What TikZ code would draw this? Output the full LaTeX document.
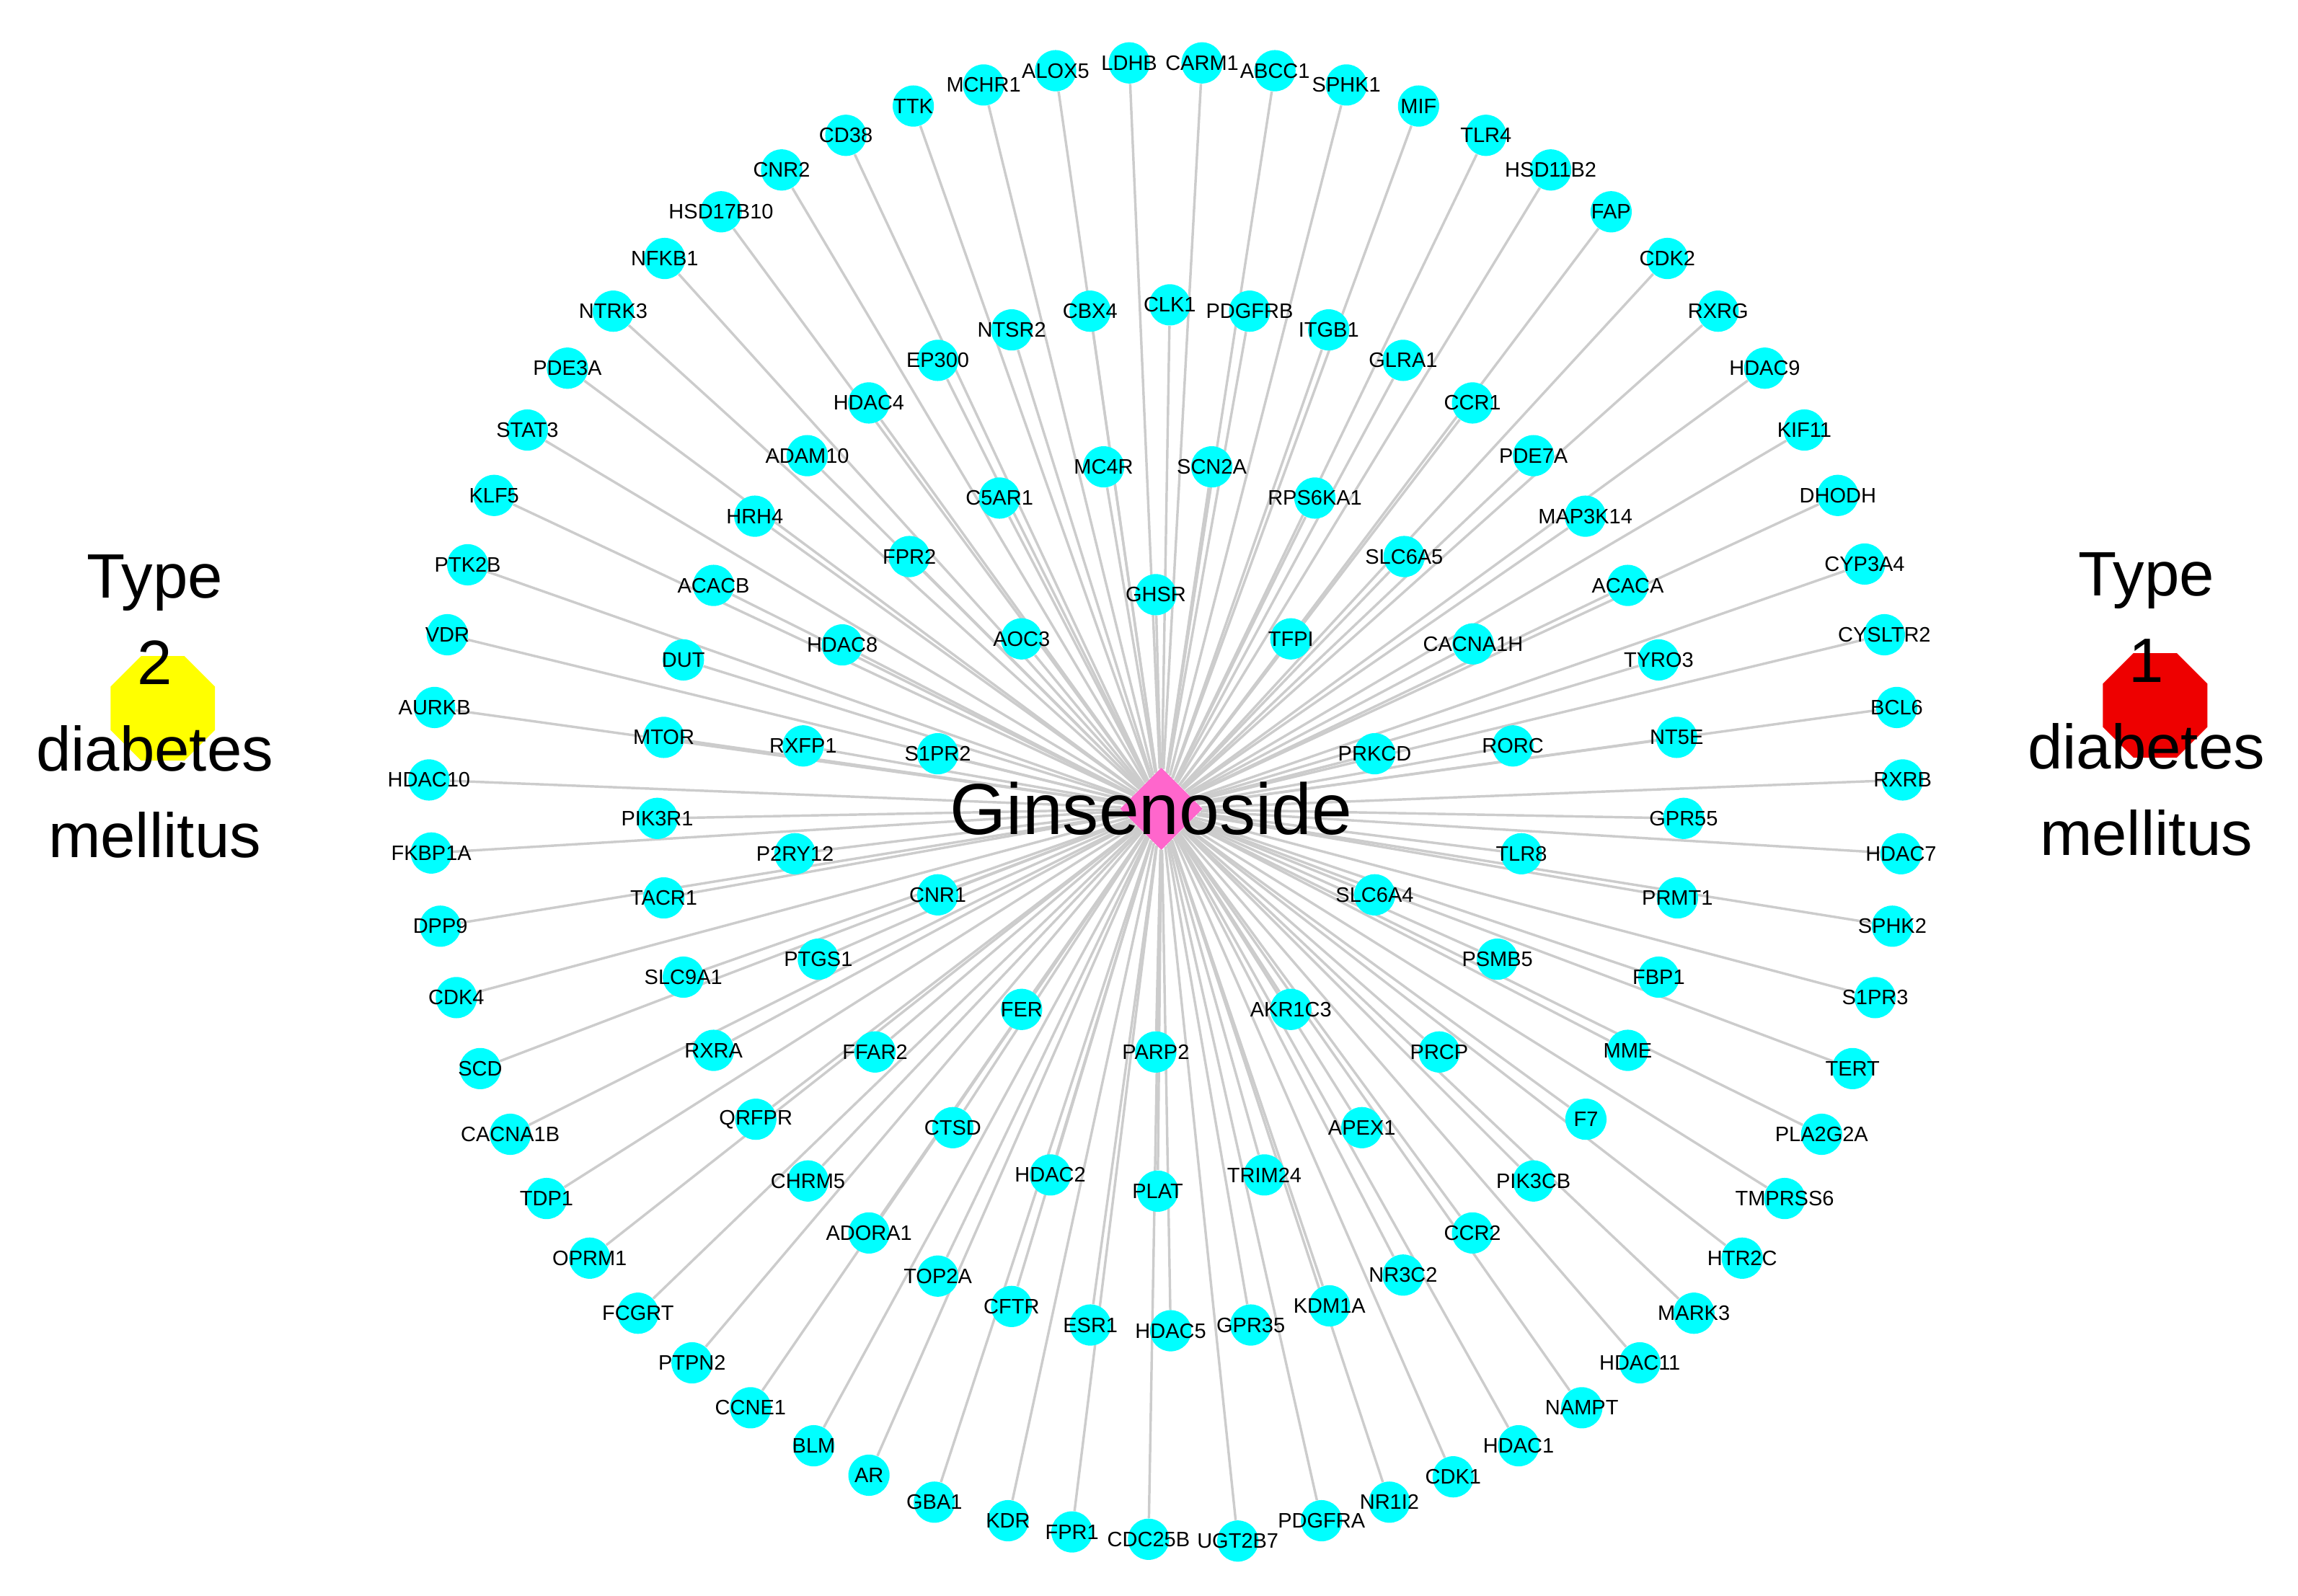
\documentclass[tikz,border=0pt]{standalone}
\usepackage{fontspec}
\setmainfont{Liberation Sans}
\usetikzlibrary{shapes.geometric}
\pgfdeclarelayer{background}
\pgfsetlayers{background,main}
\definecolor{genecyan}{RGB}{0,255,255}
\definecolor{linkgray}{RGB}{204,204,204}
\definecolor{ginpink}{RGB}{255,102,204}
\definecolor{typeonered}{RGB}{238,0,0}
\definecolor{typetwoyellow}{RGB}{255,255,0}
\tikzset{
    genetext/.style={font=\fontsize{10.1}{12}\selectfont, inner sep=0pt},
    gene/.style={circle, fill=genecyan, minimum size=7mm, inner sep=0pt,
        label={[genetext]center:#1}},
    link/.style={draw=linkgray, line width=1.2pt},
    disease/.style={regular polygon, regular polygon sides=8,
        minimum size=19.2mm, inner sep=0pt},
    diseasetext/.style={align=center, inner sep=0pt,
        font=\fontsize{30.3}{41.75}\selectfont}
}
\begin{document}
\begin{tikzpicture}[x=0.25mm, y=-0.25mm]

            \useasboundingbox (0,0) rectangle (1560,1083.7);

            \node[diamond, fill=ginpink, minimum width=14mm, minimum height=14mm, inner sep=0pt]
            	(gin) at (788.4,549.2) {};

            \node[gene=LDHB]     (LDHB)     at (766.6,42.7) {};
            \node[gene=CARM1]    (CARM1)    at (816.0,42.7) {};
            \node[gene=ABCC1]    (ABCC1)    at (865.5,48.0) {};
            \node[gene=SPHK1]    (SPHK1)    at (914.0,57.7) {};
            \node[gene=MIF]      (MIF)      at (963.0,72.0) {};
            \node[gene=TLR4]     (TLR4)     at (1008.7,91.9) {};
            \node[gene=HSD11B2]  (HSD11B2)  at (1052.7,115.4) {};
            \node[gene=FAP]      (FAP)      at (1093.7,143.8) {};
            \node[gene=CDK2]     (CDK2)     at (1131.9,175.5) {};
            \node[gene=RXRG]     (RXRG)     at (1166.3,211.3) {};
            \node[gene=HDAC9]    (HDAC9)    at (1198.0,250.0) {};
            \node[gene=KIF11]    (KIF11)    at (1224.9,292.0) {};
            \node[gene=DHODH]    (DHODH)    at (1247.6,336.4) {};
            \node[gene=CYP3A4]   (CYP3A4)   at (1265.8,383.0) {};
            \node[gene=CYSLTR2]  (CYSLTR2)  at (1279.2,431.0) {};
            \node[gene=BCL6]     (BCL6)     at (1287.6,480.4) {};
            \node[gene=RXRB]     (RXRB)     at (1291.6,529.6) {};
            \node[gene=HDAC7]    (HDAC7)    at (1290.5,579.7) {};
            \node[gene=SPHK2]    (SPHK2)    at (1284.6,628.9) {};
            \node[gene=S1PR3]    (S1PR3)    at (1272.9,677.4) {};
            \node[gene=TERT]     (TERT)     at (1257.6,725.6) {};
            \node[gene=PLA2G2A]  (PLA2G2A)  at (1236.6,770.2) {};
            \node[gene=TMPRSS6]  (TMPRSS6)  at (1211.5,813.8) {};
            \node[gene=HTR2C]    (HTR2C)    at (1182.7,854.3) {};
            \node[gene=MARK3]    (MARK3)    at (1149.9,891.7) {};
            \node[gene=HDAC11]   (HDAC11)   at (1113.2,925.4) {};
            \node[gene=NAMPT]    (NAMPT)    at (1073.8,955.9) {};
            \node[gene=HDAC1]    (HDAC1)    at (1030.9,981.7) {};
            \node[gene=CDK1]     (CDK1)     at (986.5,1002.8) {};
            \node[gene=NR1I2]    (NR1I2)    at (943.2,1020.0) {};
            \node[gene=PDGFRA]   (PDGFRA)   at (897.1,1032.6) {};
            \node[gene=UGT2B7]   (UGT2B7)   at (840.3,1046.4) {};
            \node[gene=CDC25B]   (CDC25B)   at (779.7,1045.2) {};
            \node[gene=FPR1]     (FPR1)     at (727.7,1040.2) {};
            \node[gene=KDR]      (KDR)      at (684.3,1032.6) {};
            \node[gene=GBA1]     (GBA1)     at (634.3,1020.0) {};
            \node[gene=AR]       (AR)       at (589.9,1001.7) {};
            \node[gene=BLM]      (BLM)      at (552.4,981.7) {};
            \node[gene=CCNE1]    (CCNE1)    at (509.5,955.9) {};
            \node[gene=PTPN2]    (PTPN2)    at (469.8,925.4) {};
            \node[gene=FCGRT]    (FCGRT)    at (433.1,891.7) {};
            \node[gene=OPRM1]    (OPRM1)    at (400.3,854.3) {};
            \node[gene=TDP1]     (TDP1)     at (371.0,813.8) {};
            \node[gene=CACNA1B]  (CACNA1B)  at (346.4,770.2) {};
            \node[gene=SCD]      (SCD)      at (326.0,725.6) {};
            \node[gene=CDK4]     (CDK4)     at (309.8,677.4) {};
            \node[gene=DPP9]     (DPP9)     at (298.9,628.9) {};
            \node[gene=FKBP1A]   (FKBP1A)   at (292.8,579.2) {};
            \node[gene=HDAC10]   (HDAC10)   at (291.2,529.6) {};
            \node[gene=AURKB]    (AURKB)    at (295.0,480.4) {};
            \node[gene=VDR]      (VDR)      at (303.7,431.0) {};
            \node[gene=PTK2B]    (PTK2B)    at (317.5,383.5) {};
            \node[gene=KLF5]     (KLF5)     at (335.4,336.4) {};
            \node[gene=STAT3]    (STAT3)    at (358.0,292.0) {};
            \node[gene=PDE3A]    (PDE3A)    at (385.2,250.0) {};
            \node[gene=NTRK3]    (NTRK3)    at (416.3,211.3) {};
            \node[gene=NFKB1]    (NFKB1)    at (451.2,175.5) {};
            \node[gene=HSD17B10] (HSD17B10) at (489.5,143.8) {};
            \node[gene=CNR2]     (CNR2)     at (530.6,115.4) {};
            \node[gene=CD38]     (CD38)     at (574.2,91.9) {};
            \node[gene=TTK]      (TTK)      at (620.0,72.0) {};
            \node[gene=MCHR1]    (MCHR1)    at (667.7,57.7) {};
            \node[gene=ALOX5]    (ALOX5)    at (716.6,48.0) {};

            \node[gene=NTSR2]    (NTSR2)    at (686.8,224.0) {};
            \node[gene=CBX4]     (CBX4)     at (740.0,211.3) {};
            \node[gene=CLK1]     (CLK1)     at (794.1,207.0) {};
            \node[gene=PDGFRB]   (PDGFRB)   at (848.3,211.3) {};
            \node[gene=ITGB1]    (ITGB1)    at (902.0,224.0) {};
            \node[gene=EP300]    (EP300)    at (636.6,244.7) {};
            \node[gene=GLRA1]    (GLRA1)    at (952.5,244.7) {};
            \node[gene=HDAC4]    (HDAC4)    at (589.8,273.6) {};
            \node[gene=CCR1]     (CCR1)     at (999.6,273.6) {};
            \node[gene=ADAM10]   (ADAM10)   at (548.0,309.4) {};
            \node[gene=PDE7A]    (PDE7A)    at (1041.0,309.4) {};
            \node[gene=MC4R]     (MC4R)     at (749.2,317.0) {};
            \node[gene=SCN2A]    (SCN2A)    at (822.6,317.0) {};
            \node[gene=C5AR1]    (C5AR1)    at (678.5,338.2) {};
            \node[gene=RPS6KA1]  (RPS6KA1)  at (892.6,338.2) {};
            \node[gene=HRH4]     (HRH4)     at (512.4,350.5) {};
            \node[gene=MAP3K14]  (MAP3K14)  at (1076.2,350.5) {};
            \node[gene=FPR2]     (FPR2)     at (617.3,377.9) {};
            \node[gene=SLC6A5]   (SLC6A5)   at (953.2,377.9) {};
            \node[gene=ACACB]    (ACACB)    at (484.4,397.5) {};
            \node[gene=ACACA]    (ACACA)    at (1105.0,397.5) {};
            \node[gene=GHSR]     (GHSR)     at (784.6,403.8) {};
            \node[gene=AOC3]     (AOC3)     at (693.5,433.8) {};
            \node[gene=TFPI]     (TFPI)     at (876.3,433.8) {};
            \node[gene=HDAC8]    (HDAC8)    at (571.8,437.9) {};
            \node[gene=CACNA1H]  (CACNA1H)  at (1000.0,437.2) {};
            \node[gene=DUT]      (DUT)      at (463.9,448.1) {};
            \node[gene=TYRO3]    (TYRO3)    at (1126.0,448.1) {};
            \node[gene=MTOR]     (MTOR)     at (450.6,500.7) {};
            \node[gene=NT5E]     (NT5E)     at (1138.2,500.7) {};
            \node[gene=RXFP1]    (RXFP1)    at (545.2,506.5) {};
            \node[gene=RORC]     (RORC)     at (1027.0,506.5) {};
            \node[gene=S1PR2]    (S1PR2)    at (636.6,511.8) {};
            \node[gene=PRKCD]    (PRKCD)    at (933.2,511.8) {};
            \node[gene=PIK3R1]   (PIK3R1)   at (446.2,555.7) {};
            \node[gene=GPR55]    (GPR55)    at (1142.9,555.7) {};
            \node[gene=P2RY12]   (P2RY12)   at (539.7,579.7) {};
            \node[gene=TLR8]     (TLR8)     at (1032.8,579.7) {};
            \node[gene=CNR1]     (CNR1)     at (636.6,607.6) {};
            \node[gene=SLC6A4]   (SLC6A4)   at (933.2,607.6) {};
            \node[gene=TACR1]    (TACR1)    at (450.6,609.7) {};
            \node[gene=PRMT1]    (PRMT1)    at (1138.7,609.7) {};
            \node[gene=PTGS1]    (PTGS1)    at (555.5,651.3) {};
            \node[gene=PSMB5]    (PSMB5)    at (1016.5,651.3) {};
            \node[gene=SLC9A1]   (SLC9A1)   at (463.9,663.5) {};
            \node[gene=FBP1]     (FBP1)     at (1126.0,663.5) {};
            \node[gene=FER]      (FER)      at (693.5,685.4) {};
            \node[gene=AKR1C3]   (AKR1C3)   at (876.3,685.4) {};
            \node[gene=RXRA]     (RXRA)     at (484.4,713.2) {};
            \node[gene=MME]      (MME)      at (1105.0,713.2) {};
            \node[gene=FFAR2]    (FFAR2)    at (594.0,714.3) {};
            \node[gene=PRCP]     (PRCP)     at (977.0,714.3) {};
            \node[gene=PARP2]    (PARP2)    at (784.6,714.3) {};
            \node[gene=QRFPR]    (QRFPR)    at (513.1,760.0) {};
            \node[gene=F7]       (F7)       at (1076.6,760.0) {};
            \node[gene=CTSD]     (CTSD)     at (646.8,765.7) {};
            \node[gene=APEX1]    (APEX1)    at (924.5,765.7) {};
            \node[gene=HDAC2]    (HDAC2)    at (713.0,797.8) {};
            \node[gene=TRIM24]   (TRIM24)   at (858.3,797.8) {};
            \node[gene=CHRM5]    (CHRM5)    at (548.5,801.9) {};
            \node[gene=PIK3CB]   (PIK3CB)   at (1041.0,801.9) {};
            \node[gene=PLAT]     (PLAT)     at (785.9,808.8) {};
            \node[gene=ADORA1]   (ADORA1)   at (589.9,837.2) {};
            \node[gene=CCR2]     (CCR2)     at (999.6,837.2) {};
            \node[gene=TOP2A]    (TOP2A)    at (636.6,866.5) {};
            \node[gene=NR3C2]    (NR3C2)    at (952.5,865.8) {};
            \node[gene=CFTR]     (CFTR)     at (686.7,887.1) {};
            \node[gene=KDM1A]    (KDM1A)    at (902.5,886.7) {};
            \node[gene=ESR1]     (ESR1)     at (740.2,899.7) {};
            \node[gene=GPR35]    (GPR35)    at (849.1,899.7) {};
            \node[gene=HDAC5]    (HDAC5)    at (794.7,903.6) {};

            \node[font=\fontsize{34.9}{40}\selectfont, inner sep=0pt]
            	(gintext) at (781.5,549.0) {Ginsenoside};

            \node[disease, fill=typetwoyellow] (t2oct) at (110.5,481.0) {};
            \node[diseasetext] (t2dm) at (105.0,479.8) {Type\\2\\diabetes\\mellitus};
            \node[disease, fill=typeonered] (t1oct) at (1463.0,479.0) {};
            \node[diseasetext] (t1dm) at (1457.0,478.3) {Type\\1\\diabetes\\mellitus};

            \begin{pgfonlayer}{background}
                \foreach \g in {LDHB,CARM1,ABCC1,SPHK1,MIF,TLR4,HSD11B2,FAP,CDK2,RXRG,
                    HDAC9,KIF11,DHODH,CYP3A4,CYSLTR2,BCL6,RXRB,HDAC7,SPHK2,S1PR3,TERT,
                    PLA2G2A,TMPRSS6,HTR2C,MARK3,HDAC11,NAMPT,HDAC1,CDK1,NR1I2,PDGFRA,
                    UGT2B7,CDC25B,FPR1,KDR,GBA1,AR,BLM,CCNE1,PTPN2,FCGRT,OPRM1,TDP1,
                    CACNA1B,SCD,CDK4,DPP9,FKBP1A,HDAC10,AURKB,VDR,PTK2B,KLF5,STAT3,PDE3A,
                    NTRK3,NFKB1,HSD17B10,CNR2,CD38,TTK,MCHR1,ALOX5,
                    NTSR2,CBX4,CLK1,PDGFRB,ITGB1,EP300,GLRA1,HDAC4,CCR1,ADAM10,PDE7A,
                    MC4R,SCN2A,C5AR1,RPS6KA1,HRH4,MAP3K14,FPR2,SLC6A5,ACACB,ACACA,GHSR,
                    AOC3,TFPI,HDAC8,CACNA1H,DUT,TYRO3,MTOR,NT5E,RXFP1,RORC,S1PR2,PRKCD,
                    PIK3R1,GPR55,P2RY12,TLR8,CNR1,SLC6A4,TACR1,PRMT1,PTGS1,PSMB5,SLC9A1,
                    FBP1,FER,AKR1C3,RXRA,MME,FFAR2,PRCP,PARP2,QRFPR,F7,CTSD,APEX1,HDAC2,
                    TRIM24,CHRM5,PIK3CB,PLAT,ADORA1,CCR2,TOP2A,NR3C2,CFTR,KDM1A,ESR1,
                    GPR35,HDAC5}
                    \draw[link] (gin) -- (\g);
            \end{pgfonlayer}
        \end{tikzpicture}
\end{document}
